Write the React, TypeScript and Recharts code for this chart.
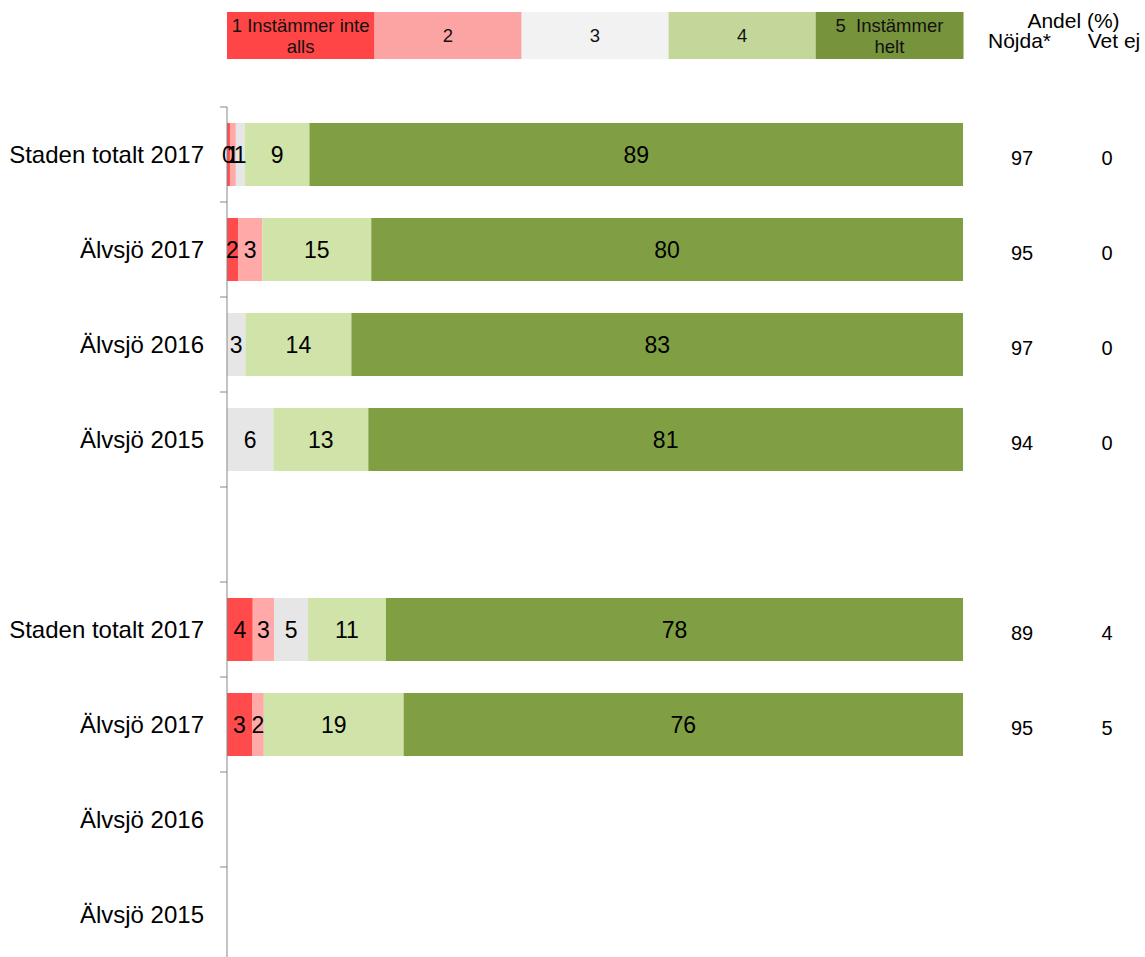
import { Bar, BarChart, LabelList, XAxis, YAxis } from "recharts";

const categories = [
    "Staden totalt 2017",
    "Älvsjö 2017",
    "Älvsjö 2016",
    "Älvsjö 2015",
    "",
    "Staden totalt 2017",
    "Älvsjö 2017",
    "Älvsjö 2016",
    "Älvsjö 2015",
];

const s1 = [0.4, 1.5, null, null, null, 3.5, 3.4, null, null];
const s2 = [0.8, 3.3, null, null, null, 2.9, 1.6, null, null];
const s3 = [1.2, null, 2.5, 6.3, null, 4.6, null, null, null];
const s4 = [8.8, 14.8, 14.4, 12.9, null, 10.6, 19.0, null, null];
const s5 = [88.8, 80.4, 83.1, 80.8, null, 78.4, 76.0, null, null];

const nojda = ["97", "95", "97", "94", "", "89", "95", "", ""];
const vetEj = ["0", "0", "0", "0", "", "4", "5", "", ""];

const seriesNames = ["1 Instämmer inte alls", "2", "3", "4", "5  Instämmer helt"];
const legendLines = [["1 Instämmer inte", "alls"], ["2"], ["3"], ["4"], ["5  Instämmer", "helt"]];
const barColors = ["#ff4b4b", "#ffa9a9", "#e6e6e6", "#d0e3a8", "#809f42"];
const legendColors = ["#ff4545", "#fca3a3", "#f2f2f2", "#c4d79b", "#77933c"];

const FONT = "Arial, 'Liberation Sans', sans-serif";
const BAND = 95;

const data = categories.map((name, i) => ({
    row: i,
    name,
    s1: s1[i],
    s2: s2[i],
    s3: s3[i],
    s4: s4[i],
    s5: s5[i],
}));

const LeftTick = ({ y, payload, index }: any) => {
    const label = categories[payload.value] ?? "";
    return (
        <g>
            {index === 0 && <line x1={220} x2={227} y1={y - BAND / 2} y2={y - BAND / 2} stroke="#868686" />}
            <line x1={220} x2={227} y1={y + BAND / 2} y2={y + BAND / 2} stroke="#868686" />
            <text x={204} y={y} dy={8.5} textAnchor="end" fontSize={24} fontFamily={FONT} fill="#000">
                {label}
            </text>
        </g>
    );
};

const RightTick = ({ y, payload }: any) => {
    const i = payload.value;
    return (
        <g fontSize={20} fontFamily={FONT} fill="#000">
            <text x={1022} y={y} dy={10} textAnchor="middle">{nojda[i]}</text>
            <text x={1107} y={y} dy={10} textAnchor="middle">{vetEj[i]}</text>
        </g>
    );
};

const renderLabel = (props: any) => {
    const { x, y, width, height, value } = props;
    if (value == null) return null;
    return (
        <text
            x={x + width / 2}
            y={y + height / 2}
            dy={8}
            textAnchor="middle"
            fontSize={23}
            fontFamily={FONT}
            fill="#000"
        >
            {Math.round(value)}
        </text>
    );
};

export default function App() {
    const keys = ["s1", "s2", "s3", "s4", "s5"];
    const boxW = 736 / 5;
    return (
        <div style={{ position: "absolute", left: 0, top: 0, width: 1145, height: 957, overflow: "hidden", background: "#fff" }}>
            <div style={{ position: "absolute", left: 0, top: 0 }}>
                <BarChart
                    width={1145}
                    height={962}
                    data={data}
                    layout="vertical"
                    margin={{ top: 107, right: 0, bottom: 0, left: 0 }}
                    barSize={63}
                >
                    <XAxis
                        type="number"
                        domain={[0, 100]}
                        orientation="top"
                        height={0}
                        tick={false}
                        tickLine={false}
                        axisLine={{ stroke: "#868686" }}
                        allowDataOverflow
                    />
                    <YAxis
                        yAxisId="left"
                        type="category"
                        dataKey="row"
                        width={227}
                        tickLine={false}
                        axisLine={{ stroke: "#868686" }}
                        tick={<LeftTick />}
                        interval={0}
                    />
                    <YAxis
                        yAxisId="right"
                        orientation="right"
                        type="category"
                        dataKey="row"
                        width={182}
                        tickLine={false}
                        axisLine={false}
                        tick={<RightTick />}
                        interval={0}
                    />
                    {keys.map((k, i) => (
                        <Bar
                            key={k}
                            yAxisId="left"
                            dataKey={k}
                            name={seriesNames[i]}
                            stackId="a"
                            fill={barColors[i]}
                            isAnimationActive={false}
                        >
                            <LabelList dataKey={k} content={renderLabel} />
                        </Bar>
                    ))}
                </BarChart>
            </div>

            {/* legend + right column header */}
            <svg
                width={1145}
                height={70}
                style={{ position: "absolute", left: 0, top: 0, pointerEvents: "none" }}
                fontFamily={FONT}
            >
                {legendLines.map((lines, i) => {
                    const x = 227 + i * boxW;
                    const base = lines.length === 1 ? 42 : 31.5;
                    return (
                        <g key={i}>
                            <rect x={x} y={12} width={boxW + 0.5} height={47} fill={legendColors[i]} />
                            {lines.map((l, j) => (
                                <text
                                    key={j}
                                    x={x + boxW / 2}
                                    y={base + j * 21.5}
                                    textAnchor="middle"
                                    fontSize={18.5}
                                    fill="#111"
                                    style={{ whiteSpace: "pre" }}
                                >
                                    {l}
                                </text>
                            ))}
                        </g>
                    );
                })}
                <text x={1073.5} y={28} textAnchor="middle" fontSize={21} fill="#000">Andel (%)</text>
                <text x={1019.5} y={48} textAnchor="middle" fontSize={21} fill="#000">Nöjda*</text>
                <text x={1114} y={48} textAnchor="middle" fontSize={21} fill="#000">Vet ej</text>
            </svg>
        </div>
    );
}
